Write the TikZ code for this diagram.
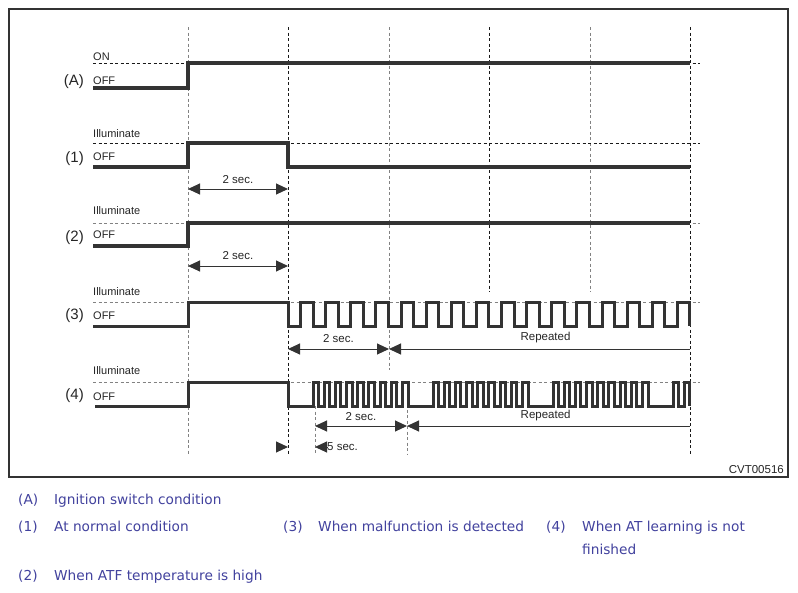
\documentclass[tikz,border=0pt]{standalone}
\usepackage{fontspec}
\setmainfont{Liberation Sans}
\newfontfamily\legendfont{DejaVu Sans}
\usetikzlibrary{arrows.meta}

\definecolor{wavegray}{RGB}{51,51,51}
\definecolor{guidegray}{RGB}{130,130,130}
\definecolor{legendblue}{RGB}{66,66,158}

\tikzset{
    wave/.style={line width=3.5pt, draw=wavegray},
    pulse/.style={line width=3pt, draw=wavegray},
    guide/.style={dash pattern=on 3pt off 2.5pt, line width=1pt, draw=black!90},
    guidelight/.style={guide, draw=guidegray},
    dim/.style={line width=1pt, draw=wavegray, {Triangle[length=12pt,width=11pt]}-{Triangle[length=12pt,width=11pt]}},
    dimleft/.style={line width=1pt, draw=wavegray, {Triangle[length=12pt,width=11pt]}-},
    dimright/.style={line width=1pt, draw=wavegray, -{Triangle[length=12pt,width=11pt]}},
    lvl/.style={font=\fontsize{11}{12}\selectfont, anchor=base west, inner sep=0pt, text=black!85},
    rowlabel/.style={font=\fontsize{15}{17}\selectfont, anchor=east, inner sep=0pt, text=black!85},
    dimlabel/.style={font=\fontsize{11.5}{13}\selectfont, inner sep=0pt, text=black!85},
    legend/.style={font=\legendfont\fontsize{13.7}{16}\selectfont, anchor=base west, inner sep=0pt, text=legendblue}
}

\begin{document}
\begin{tikzpicture}[x=1pt, y=-1pt]
    \useasboundingbox (0,0) rectangle (798,592);
    \fill[white] (0,0) rectangle (798,592);
    \draw[line width=1.3pt, draw=wavegray] (9,9) rectangle (788,477);

    % time marks
    \draw[guidelight] (188,27) -- (188,455);
    \draw[guide] (288,27) -- (288,455);
    \draw[guidelight] (389,27) -- (389,370);
    \draw[guide] (489,27) -- (489,292);
    \draw[guidelight] (590,27) -- (590,292);
    \draw[guide] (690,27) -- (690,455);
    \draw[guidelight] (315,406) -- (315,455);
    \draw[guidelight] (407,382) -- (407,455);

    % high levels
    \draw[guide] (93,63) -- (700,63);
    \draw[guide] (93,143) -- (700,143);
    \draw[guidelight] (93,223) -- (700,223);
    \draw[guidelight] (93,302) -- (700,302);
    \draw[guidelight] (93,382) -- (700,382);

    % waveforms
    \draw[wave] (93,88) -| (188,63) -- (690,63);
    \draw[wave] (93,167) -| (188,143) -| (288,167) -- (690,167);
    \draw[wave] (93,246) -| (188,223) -- (690,223);
    \draw[pulse] (93,326) -| (188,302) -| (288,326)
        \foreach \k in {0,...,15} { -| ({300.5+25.125*\k},302) -| ({313.1+25.125*\k},326) };
    \draw[pulse] (95,406) -| (188,382) -| (288,406)
        \foreach \b in {313,433,553} { \foreach \j in {0,...,8} { -| ({\b+11.18*\j},382) -| ({\b+11.18*\j+5.59},406) } }
        \foreach \j in {0,1} { -| ({673+11.18*\j},382) -| ({673+11.18*\j+5.59},406) };

    % row labels
    \node[rowlabel] (rowA) at (84,82) {(A)};
    \node[rowlabel] (row1) at (84,159) {(1)};
    \node[rowlabel] (row2) at (84,238) {(2)};
    \node[rowlabel] (row3) at (84,316) {(3)};
    \node[rowlabel] (row4) at (84,396) {(4)};

    \node[lvl] (onA) at (93,60.5) {ON};
    \node[lvl] (offA) at (93,84.5) {OFF};
    \node[lvl] (ill1) at (93,137) {Illuminate};
    \node[lvl] (off1) at (93,160) {OFF};
    \node[lvl] (ill2) at (93,214) {Illuminate};
    \node[lvl] (off2) at (93,238.5) {OFF};
    \node[lvl] (ill3) at (93,295) {Illuminate};
    \node[lvl] (off3) at (93,319) {OFF};
    \node[lvl] (ill4) at (93,374) {Illuminate};
    \node[lvl] (off4) at (93,400) {OFF};

    % durations
    \coordinate (d1a) at (188,189);
    \coordinate (d1b) at (288,189);
    \coordinate (d2a) at (188,266);
    \coordinate (d2b) at (288,266);
    \coordinate (d3a) at (288,349);
    \coordinate (d3b) at (389,349);
    \coordinate (d3c) at (690,349);
    \coordinate (d4a) at (315,426);
    \coordinate (d4b) at (407,426);
    \coordinate (d4c) at (690,426);
    \coordinate (s4a) at (276,447);
    \coordinate (s4b) at (288,447);
    \coordinate (s4c) at (327,447);
    \coordinate (s4d) at (315,447);

    \draw[dim] (d1a) -- node[dimlabel, midway, above=5pt] {2 sec.} (d1b);
    \draw[dim] (d2a) -- node[dimlabel, midway, above=5.5pt] {2 sec.} (d2b);
    \draw[dim] (d3a) -- node[dimlabel, midway, above=5.5pt] {2 sec.} (d3b);
    \draw[dimleft] (d3b) -- node[dimlabel, pos=0.52, above=5.5pt] {Repeated} (d3c);
    \draw[dim] (d4a) -- node[dimlabel, midway, above=5pt] {2 sec.} (d4b);
    \draw[dimleft] (d4b) -- node[dimlabel, pos=0.49, above=5pt] {Repeated} (d4c);
    \draw[dimright] (s4a) -- (s4b);
    \draw[dimright] (s4c) -- (s4d);
    \node[dimlabel, anchor=west] (short4) at (s4c) {5 sec.};

    \node[dimlabel, anchor=base east] (code) at (784,473) {CVT00516};

    % legend
    \node[legend] (keyA) at (18,504) {(A)};
    \node[legend] (txtA) at (54,504) {Ignition switch condition};
    \node[legend] (key1) at (18,531) {(1)};
    \node[legend] (txt1) at (54,531) {At normal condition};
    \node[legend] (key3) at (283,531) {(3)};
    \node[legend] (txt3) at (318,531) {When malfunction is detected};
    \node[legend] (key4) at (546,531) {(4)};
    \node[legend] (txt4) at (582,531) {When AT learning is not};
    \node[legend] (txt4b) at (582,554) {finished};
    \node[legend] (key2) at (18,580) {(2)};
    \node[legend] (txt2) at (54,580) {When ATF temperature is high};
\end{tikzpicture}
\end{document}
